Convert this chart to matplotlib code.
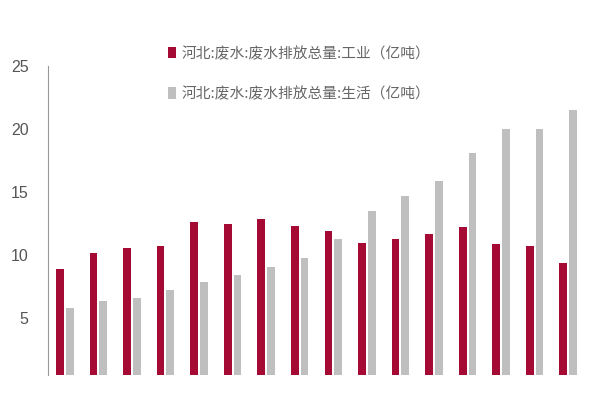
import matplotlib
matplotlib.use("Agg")
import matplotlib.pyplot as plt
import numpy as np

plt.rcParams['font.family'] = ['Noto Sans CJK SC', 'DejaVu Sans']

# values (亿吨), 16 years, no x labels shown
industry = [8.9, 10.2, 10.6, 10.7, 12.6, 12.5, 12.9, 12.3, 11.9, 11.0,
            11.3, 11.7, 12.2, 10.9, 10.7, 9.4]
domestic = [5.8, 6.4, 6.6, 7.2, 7.9, 8.4, 9.1, 9.8, 11.3, 13.5,
            14.7, 15.9, 18.1, 20.0, 20.0, 21.5]
labels = ['河北:废水:废水排放总量:工业（亿吨）',
          '河北:废水:废水排放总量:生活（亿吨）']
yticks = [5, 10, 15, 20, 25]

red = '#A50A35'
grey = '#BFBFBF'

fig = plt.figure(figsize=(6, 4), dpi=100)
ax = fig.add_axes([0.08, 0.0625, 0.895, 0.7725])

x = np.arange(len(industry))
w = 0.23
off = 0.145
b1 = ax.bar(x - off, industry, w, color=red, label=labels[0])
b2 = ax.bar(x + off, domestic, w, color=grey, label=labels[1])

ax.set_xlim(-0.5, len(industry) - 0.5)
ax.set_ylim(0.5, 25)
ax.set_yticks(yticks)
ax.set_yticklabels([str(v) for v in yticks], family='Liberation Sans',
                   fontsize=11.5, color='#555555')
ax.tick_params(axis='y', length=0, pad=14)
ax.set_xticks([])
for s in ['top', 'right', 'bottom']:
    ax.spines[s].set_visible(False)
ax.spines['left'].set_color('#999999')
ax.spines['left'].set_linewidth(0.8)

leg = fig.legend(handles=[b1, b2], labels=labels, loc='upper left',
                 bbox_to_anchor=(0.258, 0.917), frameon=False,
                 fontsize=10.6, handlelength=0.55, handleheight=0.8,
                 handletextpad=0.4, labelspacing=1.75, labelcolor='#666666')

fig.savefig('out.png', dpi=100)
